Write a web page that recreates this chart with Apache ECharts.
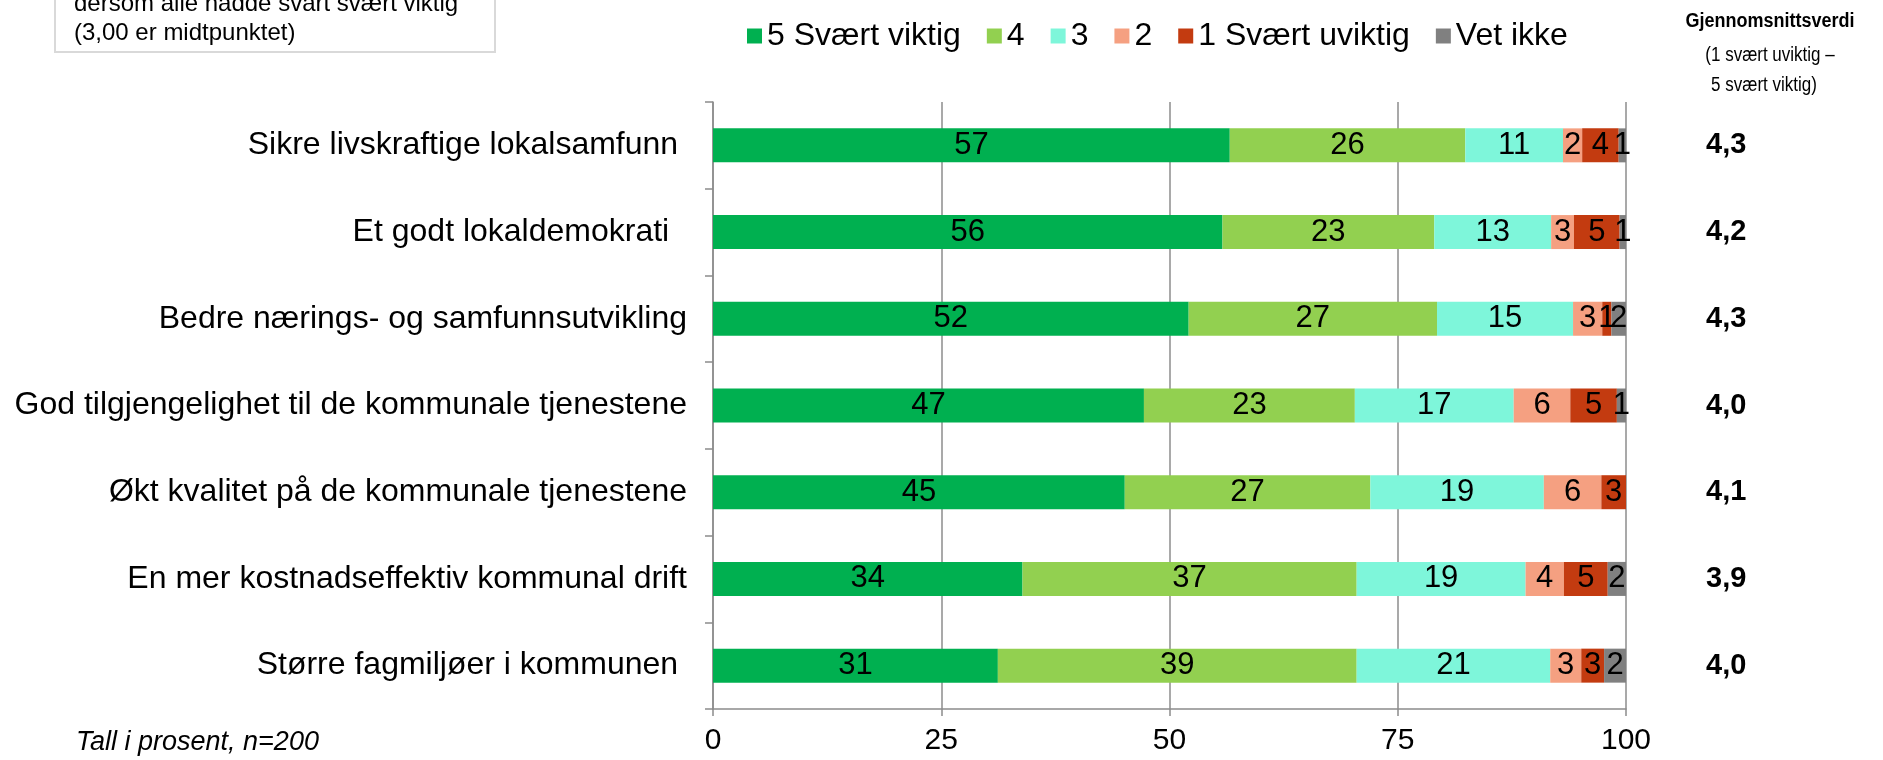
<!DOCTYPE html>
<html>
<head>
<meta charset="utf-8">
<script src="https://cdn.jsdelivr.net/npm/echarts@6/dist/echarts.min.js"></script>
<style>
  html, body { margin: 0; padding: 0; background: #fff; }
  #chart { width: 1883px; height: 760px; }
</style>
</head>
<body>
<div id="chart"></div>
<script>
// categories (top to bottom), trailing spaces kept as in the original labels
const categories = [
  'Sikre livskraftige lokalsamfunn ',
  'Et godt lokaldemokrati  ',
  'Bedre nærings- og samfunnsutvikling',
  'God tilgjengelighet til de kommunale tjenestene',
  'Økt kvalitet på de kommunale tjenestene',
  'En mer kostnadseffektiv kommunal drift',
  'Større fagmiljøer i kommunen '
];
const means = ['4,3', '4,2', '4,3', '4,0', '4,1', '3,9', '4,0'];

// percent per answer
const svaertViktig = [56.6, 55.8, 52.1, 47.2, 45.1, 33.9, 31.2];
const fire = [25.8, 23.2, 27.2, 23.1, 26.9, 36.6, 39.3];
const tre = [10.7, 12.8, 14.9, 17.4, 19.0, 18.5, 21.2];
const to = [2.1, 2.5, 3.2, 6.2, 6.3, 4.2, 3.4];
const svaertUviktig = [4.0, 5.0, 1.0, 5.1, 2.7, 4.8, 2.5];
const vetIkke = [0.8, 0.7, 1.6, 1.0, 0, 2.0, 2.4];

const xTicks = [0, 25, 50, 75, 100];

const FONT = '"Liberation Sans", Arial, sans-serif';
const axisGray = '#8c8c8c';

function mkSeries (name, data, color) {
    return {
        name: name,
        type: 'bar',
        stack: 'total',
        data: data,
        barWidth: 34,
        itemStyle: { color: color },
        label: {
            show: true,
            position: 'inside',
            color: '#000',
            fontSize: 31,
            fontFamily: FONT,
            formatter: function (p) {
                return p.value > 0.3 ? Math.round(p.value) : '';
            }
        },
        emphasis: { disabled: true }
    };
}

let chart = echarts.init(document.getElementById('chart'));
chart.setOption({
    animation: false,
    textStyle: { fontFamily: FONT },
    legend: {
        left: 742,
        top: 15,
        itemWidth: 15,
        itemHeight: 15,
        itemGap: 26,
        icon: 'rect',
        textStyle: { fontSize: 32, color: '#000', fontFamily: FONT },
        data: ['5 Svært viktig', '4', '3', '2', '1 Svært uviktig', 'Vet ikke']
    },
    grid: {
        left: 713,
        right: 257,
        top: 102,
        bottom: 51
    },
    xAxis: {
        type: 'value',
        min: xTicks[0],
        max: xTicks[xTicks.length - 1],
        interval: 25,
        axisLine: { show: true, lineStyle: { color: axisGray, width: 1.5 } },
        axisTick: { show: true, length: 7, lineStyle: { color: axisGray, width: 1.5 } },
        splitLine: { show: true, lineStyle: { color: axisGray, width: 1.5 } },
        axisLabel: { fontSize: 30, color: '#000', margin: 17, fontFamily: FONT }
    },
    yAxis: [
        {
            type: 'category',
            data: categories,
            inverse: true,
            axisLine: { show: true, lineStyle: { color: axisGray, width: 1.5 } },
            axisTick: { show: true, length: 8, lineStyle: { color: axisGray, width: 1.5 } },
            axisLabel: { fontSize: 32, color: '#000', margin: 26, fontFamily: FONT }
        },
        {
            type: 'category',
            data: means,
            inverse: true,
            position: 'right',
            axisLine: { show: false },
            axisTick: { show: false },
            axisLabel: {
                fontSize: 29,
                fontWeight: 'bold',
                color: '#000',
                margin: 80,
                fontFamily: FONT
            }
        }
    ],
    series: [
        mkSeries('5 Svært viktig', svaertViktig, '#00B050'),
        mkSeries('4', fire, '#92D050'),
        mkSeries('3', tre, '#7EF6DA'),
        mkSeries('2', to, '#F5A081'),
        mkSeries('1 Svært uviktig', svaertUviktig, '#C33B10'),
        mkSeries('Vet ikke', vetIkke, '#808080')
    ],
    graphic: [
        {
            type: 'rect',
            shape: { x: 55, y: -60, width: 440, height: 112 },
            style: { fill: '#fff', stroke: '#d9d9d9', lineWidth: 2 }
        },
        {
            type: 'text', x: 74, y: 4,
            style: { text: 'dersom alle hadde svart svært viktig', verticalAlign: 'middle', fill: '#000', font: '24px ' + FONT }
        },
        {
            type: 'text', x: 74, y: 33,
            style: { text: '(3,00 er midtpunktet)', verticalAlign: 'middle', fill: '#000', font: '24px ' + FONT }
        },
        // header of the mean column, squeezed a little like the original
        {
            type: 'text', x: 1770, y: 21, scaleX: 0.9,
            style: { text: 'Gjennomsnittsverdi', align: 'center', verticalAlign: 'middle', fill: '#000', font: 'bold 20px ' + FONT }
        },
        {
            type: 'text', x: 1770, y: 55, scaleX: 0.85,
            style: { text: '(1 svært uviktig –', align: 'center', verticalAlign: 'middle', fill: '#000', font: '20px ' + FONT }
        },
        {
            type: 'text', x: 1764, y: 85, scaleX: 0.85,
            style: { text: '5 svært viktig)', align: 'center', verticalAlign: 'middle', fill: '#000', font: '20px ' + FONT }
        },
        {
            type: 'text', x: 76, y: 742,
            style: { text: 'Tall i prosent, n=200', align: 'left', verticalAlign: 'middle', fill: '#000', font: 'italic 27px ' + FONT }
        }
    ]
});
window.addEventListener('resize', function () {
    chart.resize();
});
</script>
</body>
</html>
